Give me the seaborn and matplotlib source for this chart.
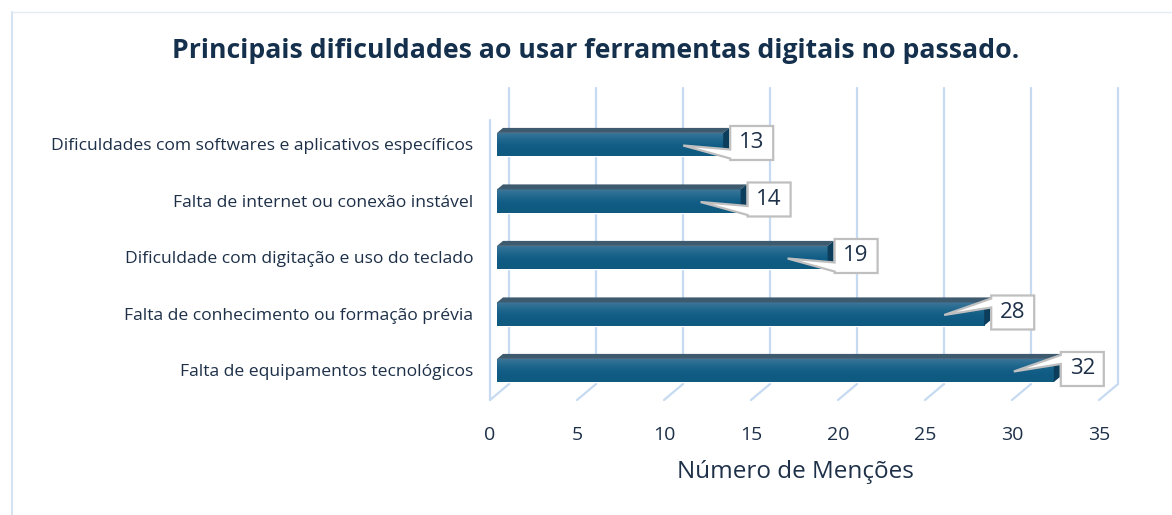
import numpy as np
import pandas as pd
import matplotlib
matplotlib.use("Agg")
import matplotlib.pyplot as plt
import seaborn as sns
from matplotlib.patches import Polygon
from matplotlib.lines import Line2D
from matplotlib.colors import LinearSegmentedColormap
from matplotlib.transforms import ScaledTranslation

# dados
categorias = [
    "Dificuldades com softwares e aplicativos específicos",
    "Falta de internet ou conexão instável",
    "Dificuldade com digitação e uso do teclado",
    "Falta de conhecimento ou formação prévia",
    "Falta de equipamentos tecnológicos",
]
mencoes = [13, 14, 19, 28, 32]
ticks_x = [0, 5, 10, 15, 20, 25, 30, 35]
titulo = "Principais dificuldades ao usar ferramentas digitais no passado."
rotulo_x = "Número de Menções"

sns.set_style("white")
plt.rcParams['font.family'] = ['Open Sans', 'DejaVu Sans']

cor_texto = "#1d3048"
cor_grade = "#c6daf1"

W, H = 1172, 515
fig = plt.figure(figsize=(W / 100, H / 100), dpi=100)

# moldura do gráfico
fig.add_artist(Line2D([12 / W, 12 / W], [0, 1 - 12 / H], color="#d6e3f3", lw=1.5))
fig.add_artist(Line2D([12 / W, 1], [1 - 12 / H, 1 - 12 / H], color="#e3ebf5", lw=1.0))

# eixo no plano das barras
ax_l, ax_t, ax_w, ax_h = 497, 99, 609, 295
ax = fig.add_axes([ax_l / W, 1 - (ax_t + ax_h) / H, ax_w / W, ax_h / H])
df = pd.DataFrame({"categoria": categorias, "mencoes": mencoes})
sns.barplot(data=df, x="mencoes", y="categoria", orient="h", color="#16608a",
            saturation=1, width=0.41, ax=ax, zorder=3)

xlim = (0, 35)
ylim = (4.416, -0.805)
sx = (xlim[1] - xlim[0]) / ax_w
sy = (ylim[0] - ylim[1]) / ax_h

# paredes e grade (fundo deslocado)
bx, by = 12 * sx, 10 * sy        # fundo em relação ao plano das barras
fx, fy = -7 * sx, 6 * sy         # frente em relação ao plano das barras
y_chao = ylim[0]
y_topo = ylim[1] - 11 * sy
for t in ticks_x:
    ax.plot([t + bx, t + bx], [y_chao - by, y_topo], color=cor_grade, lw=1.6,
            clip_on=False, zorder=1)
    ax.plot([t + fx, t + bx], [y_chao + fy, y_chao - by], color=cor_grade, lw=1.6,
            clip_on=False, zorder=1)
ax.plot([fx, fx], [ylim[1] + 21 * sy, y_chao + fy], color=cor_grade, lw=1.6,
        clip_on=False, zorder=1)

# faces 3D das barras
cmap = LinearSegmentedColormap.from_list(
    "frente", ["#3f7699", "#256a91", "#145f87", "#0e5a82", "#115b80"])
grad = np.linspace(0, 1, 64).reshape(-1, 1)
dx, dy = 6 * sx, 5 * sy
for p in list(ax.patches):
    w = p.get_width()
    y0 = p.get_y()
    h = p.get_height()
    img = ax.imshow(grad, extent=(0, w, y0 + h, y0), aspect="auto", cmap=cmap,
                    origin="upper", zorder=3.5)
    img.set_clip_path(p)
    ax.add_patch(Polygon([(0, y0), (w, y0), (w + dx, y0 - dy), (dx, y0 - dy)],
                         closed=True, fc="#3e5a6e", ec="none", zorder=3.6))
    ax.add_patch(Polygon([(w, y0), (w + dx, y0 - dy), (w + dx, y0 + h - dy), (w, y0 + h)],
                         closed=True, fc="#0c3d5a", ec="none", zorder=3.6))

    # rótulo com seta (callout)
    cy = y0 + h / 2
    L = w + 7 * sx
    R = L + 43 * sx
    T = cy - 18.5 * sy
    B = cy + 15.5 * sy
    ponta = (L - 47 * sx, cy + 1 * sy)
    if w < 25:
        b1, b2 = cy + 5 * sy, cy + 14 * sy
    else:
        b1, b2 = T + 3 * sy, T + 12 * sy
    verts = [(L, T), (R, T), (R, B), (L, B), (L, b2), ponta, (L, b1)]
    ax.add_patch(Polygon(verts, closed=True, fc="white", ec="#bfbfbf", lw=1.6,
                         clip_on=False, zorder=5))
    ax.text((L + R) / 2, (T + B) / 2, f"{int(w)}", ha="center", va="center",
            fontsize=16, color=cor_texto, zorder=6, clip_on=False)

ax.set_xlim(*xlim)
ax.set_ylim(*ylim)
ax.set_xticks(ticks_x)
ax.set_xticklabels([str(t) for t in ticks_x])
for s in ax.spines.values():
    s.set_visible(False)
ax.grid(False)
ax.tick_params(axis="x", length=0, pad=23, labelsize=14, labelcolor=cor_texto)
ax.tick_params(axis="y", length=0, pad=17, labelsize=12.6, labelcolor=cor_texto)
desloc = ScaledTranslation(-0.07, 0, fig.dpi_scale_trans)
for lab in ax.get_xticklabels():
    lab.set_transform(lab.get_transform() + desloc)
ax.set_ylabel("")
ax.set_xlabel(rotulo_x, fontsize=17.5, color=cor_texto)
ax.xaxis.set_label_coords((795 - ax_l) / ax_w, -(472 - 394) / ax_h)
ax.xaxis.label.set_va("center")

fig.text(596 / W, 1 - 51 / H, titulo, ha="center", va="center", fontsize=19.2,
         fontweight="bold", color="#15304c")

fig.savefig("out.png", dpi=100)
